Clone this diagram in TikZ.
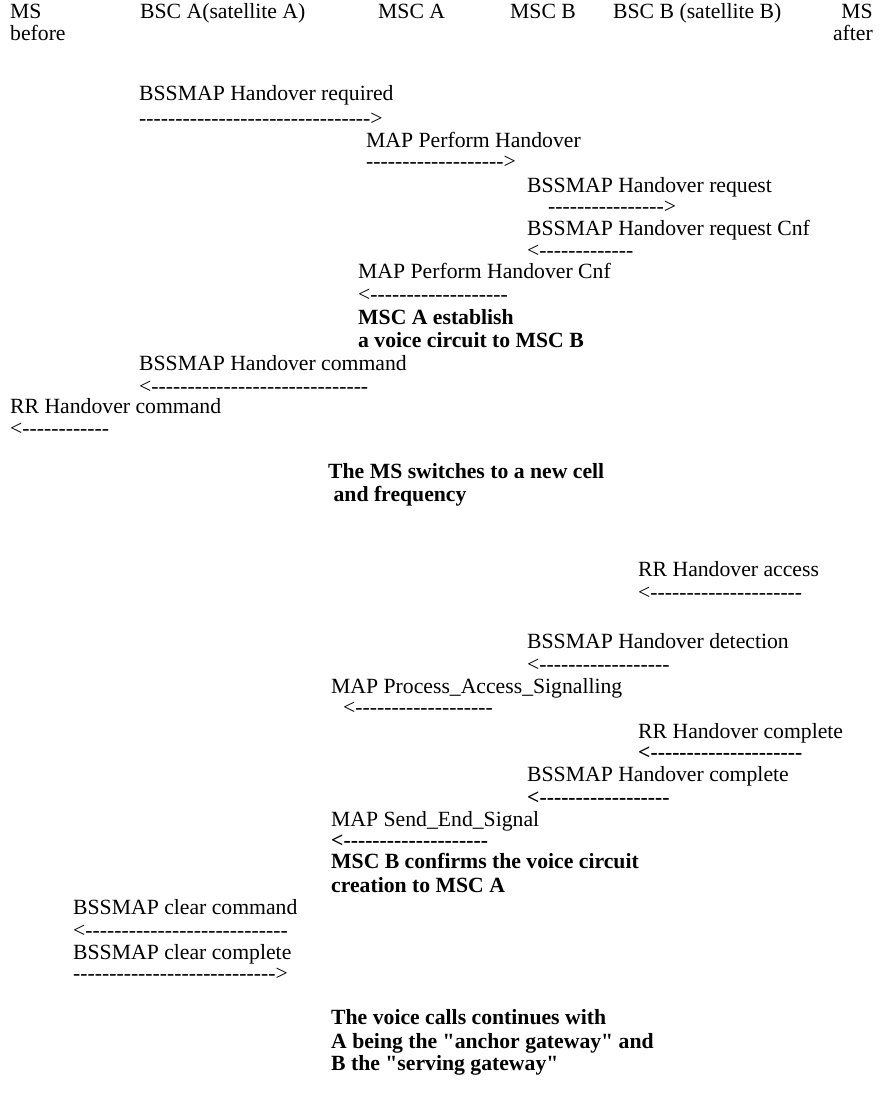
\documentclass[tikz,border=0pt]{standalone}
\usepackage{fontspec}
\setmainfont{Liberation Serif}[Ligatures=TeXOff]
\begin{document}
\begin{tikzpicture}[x=1pt,y=-1pt,
  txt/.style={anchor=base west,inner sep=0pt,text height=14pt,text depth=4pt,font=\fontsize{21.7}{23}\selectfont},
  txtr/.style={txt,anchor=base east},
  btxt/.style={txt,font=\fontsize{21.7}{23}\selectfont\bfseries},
  bline/.style={txt,font=\fontsize{21.7}{23}\selectfont\bfseries}]
\useasboundingbox (0,0) rectangle (883,1107);
% header
\node[txt] (ms1) at (10,19) {MS};
\node[txt] (ms1b) at (10,41) {before};
\node[txt] (bsca) at (140,19) {BSC A(satellite A)};
\node[txt] (msca) at (378,19) {MSC A};
\node[txt] (mscb) at (510,19) {MSC B};
\node[txt] (bscb) at (613,19) {BSC B (satellite B)};
\node[txtr] (ms2) at (873,19) {MS};
\node[txtr] (ms2b) at (873,41) {after};
% messages
\node[txt] (m1) at (139,101) {BSSMAP Handover required};
\node[txt] (a1) at (139,126) {-{}-{}-{}-{}-{}-{}-{}-{}-{}-{}-{}-{}-{}-{}-{}-{}-{}-{}-{}-{}-{}-{}-{}-{}-{}-{}-{}-{}-{}-{}-{}->};
\node[txt] (m2) at (366,148) {MAP Perform Handover};
\node[txt] (a2) at (366,169) {-{}-{}-{}-{}-{}-{}-{}-{}-{}-{}-{}-{}-{}-{}-{}-{}-{}-{}->};
\node[txt] (m3) at (527,193) {BSSMAP Handover request};
\node[txt] (a3) at (548,214) {-{}-{}-{}-{}-{}-{}-{}-{}-{}-{}-{}-{}-{}-{}-{}->};
\node[txt] (m4) at (527,236) {BSSMAP Handover request Cnf};
\node[txt] (a4) at (527,257) {<-{}-{}-{}-{}-{}-{}-{}-{}-{}-{}-{}-{}-};
\node[txt] (m5) at (358,278) {MAP Perform Handover Cnf};
\node[txt] (a5) at (358,301) {<-{}-{}-{}-{}-{}-{}-{}-{}-{}-{}-{}-{}-{}-{}-{}-{}-{}-{}-};
\node[btxt] (n1) at (358,324) {MSC A establish};
\node[btxt] (n1b) at (358,347) {a voice circuit to MSC B};
\node[txt] (m6) at (139,370) {BSSMAP Handover command};
\node[txt] (a6) at (139,393) {<-{}-{}-{}-{}-{}-{}-{}-{}-{}-{}-{}-{}-{}-{}-{}-{}-{}-{}-{}-{}-{}-{}-{}-{}-{}-{}-{}-{}-{}-};
\node[txt] (m7) at (10,413) {RR Handover command};
\node[txt] (a7) at (10,435) {<-{}-{}-{}-{}-{}-{}-{}-{}-{}-{}-{}-};
\node[btxt] (n2) at (328,478) {The MS switches to a new cell};
\node[btxt] (n2b) at (328,501) {\ and frequency};
\node[txt] (m8) at (638,576) {RR Handover access};
\node[txt] (a8) at (638,599) {<-{}-{}-{}-{}-{}-{}-{}-{}-{}-{}-{}-{}-{}-{}-{}-{}-{}-{}-{}-{}-};
\node[txt] (m9) at (527,648) {BSSMAP Handover detection};
\node[txt] (a9) at (527,671) {<-{}-{}-{}-{}-{}-{}-{}-{}-{}-{}-{}-{}-{}-{}-{}-{}-{}-};
\node[txt] (m10) at (331,693) {MAP Process\_Access\_Signalling};
\node[txt] (a10) at (343,714) {<-{}-{}-{}-{}-{}-{}-{}-{}-{}-{}-{}-{}-{}-{}-{}-{}-{}-{}-};
\node[txt] (m11) at (638,738) {RR Handover complete};
\node[bline] (a11) at (638,759) {<-{}-{}-{}-{}-{}-{}-{}-{}-{}-{}-{}-{}-{}-{}-{}-{}-{}-{}-{}-{}-};
\node[txt] (m12) at (527,781) {BSSMAP Handover complete};
\node[bline] (a12) at (527,804) {<-{}-{}-{}-{}-{}-{}-{}-{}-{}-{}-{}-{}-{}-{}-{}-{}-{}-};
\node[txt] (m13) at (331,826) {MAP Send\_End\_Signal};
\node[bline] (a13) at (331,847) {<-{}-{}-{}-{}-{}-{}-{}-{}-{}-{}-{}-{}-{}-{}-{}-{}-{}-{}-{}-};
\node[btxt] (n3) at (331,868) {MSC B confirms the voice circuit};
\node[btxt] (n3b) at (331,892) {creation to MSC A};
\node[txt] (m14) at (73,914) {BSSMAP clear command};
\node[txt] (a14) at (73,937) {<-{}-{}-{}-{}-{}-{}-{}-{}-{}-{}-{}-{}-{}-{}-{}-{}-{}-{}-{}-{}-{}-{}-{}-{}-{}-{}-{}-};
\node[txt] (m15) at (73,959) {BSSMAP clear complete};
\node[txt] (a15) at (73,980) {-{}-{}-{}-{}-{}-{}-{}-{}-{}-{}-{}-{}-{}-{}-{}-{}-{}-{}-{}-{}-{}-{}-{}-{}-{}-{}-{}->};
\node[btxt] (n4) at (331,1024) {The voice calls continues with};
\node[btxt] (n4b) at (331,1048) {A being the "anchor gateway" and};
\node[btxt] (n4c) at (331,1070) {B the "serving gateway"};
\end{tikzpicture}
\end{document}
